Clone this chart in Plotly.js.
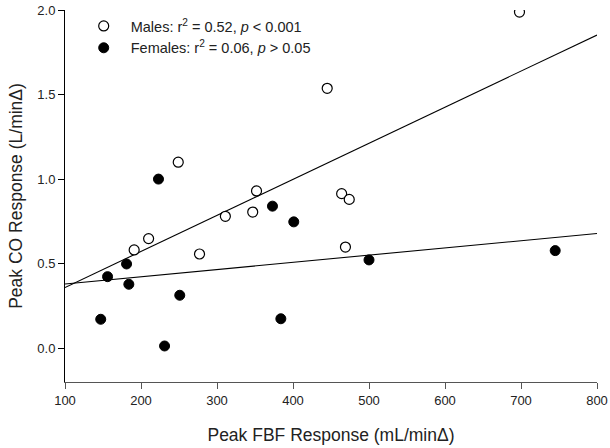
<!DOCTYPE html>
<html>
<head>
<meta charset="utf-8">
<script src="https://cdn.plot.ly/plotly-3.0.1.min.js"></script>
<style>html,body{margin:0;padding:0;background:#fff;}#chart{width:610px;height:448px;}</style>
</head>
<body>
<div id="chart"></div>
<script>
// Males (open circles)
const maleFBF = [249, 352, 347, 311, 210, 191, 277, 445, 464, 474, 469, 698];
const maleCO  = [1.10, 0.93, 0.805, 0.78, 0.648, 0.581, 0.557, 1.537, 0.914, 0.88, 0.598, 1.988];
// Females (filled circles)
const femaleFBF = [223, 373, 401, 181, 156, 184, 251, 147, 384, 231, 500, 745];
const femaleCO  = [1.00, 0.84, 0.747, 0.498, 0.423, 0.378, 0.313, 0.171, 0.174, 0.013, 0.522, 0.577];
// Range over which regression lines are drawn
const fitRange = [100, 800];
const maleLabel = "Males: r<sup>2</sup> = 0.52, <i>p</i> &lt; 0.001";
const femaleLabel = "Females: r<sup>2</sup> = 0.06, <i>p</i> &gt; 0.05";
const xTicks = [100, 200, 300, 400, 500, 600, 700, 800];
const yTicks = [0.0, 0.5, 1.0, 1.5, 2.0];

function linfit(xs, ys) {
  const n = xs.length;
  const mx = xs.reduce((a, b) => a + b, 0) / n;
  const my = ys.reduce((a, b) => a + b, 0) / n;
  let sxy = 0, sxx = 0;
  for (let i = 0; i < n; i++) { sxy += (xs[i] - mx) * (ys[i] - my); sxx += (xs[i] - mx) ** 2; }
  const b = sxy / sxx;
  return x => my + b * (x - mx);
}
const fm = linfit(maleFBF, maleCO);
const ff = linfit(femaleFBF, femaleCO);

const font = "Liberation Sans, Arial, sans-serif";
const traces = [
  {x: fitRange, y: fitRange.map(fm), mode: 'lines', line: {color: '#000', width: 1.1}, showlegend: false, hoverinfo: 'skip'},
  {x: fitRange, y: fitRange.map(ff), mode: 'lines', line: {color: '#000', width: 1.1}, showlegend: false, hoverinfo: 'skip'},
  {x: maleFBF, y: maleCO, mode: 'markers', name: maleLabel,
   marker: {symbol: 'circle', size: 10, color: '#fff', line: {color: '#000', width: 1.2}}},
  {x: femaleFBF, y: femaleCO, mode: 'markers', name: femaleLabel,
   marker: {symbol: 'circle', size: 10, color: '#000', line: {color: '#000', width: 1}}}
];

const layout = {
  width: 610, height: 448,
  margin: {l: 65, r: 13, t: 10, b: 66},
  paper_bgcolor: '#fff', plot_bgcolor: '#fff',
  font: {family: font, color: '#222', size: 13},
  showlegend: true,
  legend: {x: 0.022, y: 1.0, xanchor: 'left', yanchor: 'top', bgcolor: 'rgba(0,0,0,0)',
           font: {family: font, size: 14.5, color: '#222'}, itemsizing: 'trace', itemwidth: 44, tracegroupgap: 0},
  xaxis: {
    range: [100, 800], tickvals: xTicks, ticktext: xTicks.map(String),
    showgrid: false, zeroline: false, showline: true, linecolor: '#555', linewidth: 1,
    ticks: 'outside', ticklen: 6, tickcolor: '#555', tickfont: {size: 13, color: '#222'},
    title: {text: 'Peak FBF Response (mL/min\u0394)', font: {size: 17.5, color: '#222'}, standoff: 22}
  },
  yaxis: {
    range: [-0.2, 2.0], tickvals: yTicks, ticktext: yTicks.map(v => v.toFixed(1)),
    showgrid: false, zeroline: false, showline: true, linecolor: '#000', linewidth: 1,
    ticks: 'outside', ticklen: 6, tickcolor: '#000', tickfont: {size: 13, color: '#222'},
    title: {text: 'Peak CO Response (L/min\u0394)', font: {size: 17.5, color: '#222'}, standoff: 10}
  }
};

Plotly.newPlot('chart', traces, layout, {displayModeBar: false, staticPlot: true});
</script>
</body>
</html>
